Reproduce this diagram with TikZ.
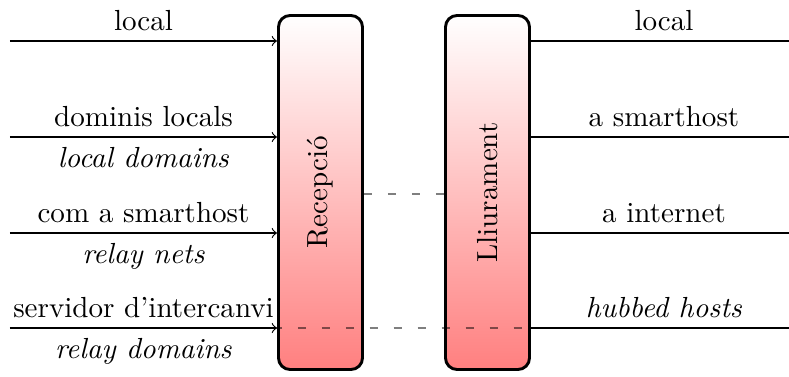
\documentclass[tikz,border=0pt]{standalone}
\usepackage{tikz}
\usetikzlibrary{positioning}

\begin{document}
\begin{tikzpicture}[x=0.344pt, y=-0.344pt,
  stage/.style={draw, line width=1pt, rounded corners=4pt, minimum width=28.9pt,
    minimum height=121.8pt, top color=white, bottom color=red!50},
  route/.style={draw=black, draw opacity=0.5, line width=0.6pt, dash pattern=on 2.75pt off 5.5pt}]
  \useasboundingbox (0,0) rectangle (789,376);
  % the two stages
  \node[stage] (recepcio) at (320.5,192.5) {};
  \node[rotate=90] (recepcio text) at (recepcio) {Recepció};
  \node[stage] (lliurament) at (487.5,192.5) {};
  \node[rotate=90] (lliurament text) at (lliurament) {Lliurament};
  % free ends
  \coordinate (in1) at (10,41);
  \coordinate (in2) at (10,137);
  \coordinate (in3) at (10,233);
  \coordinate (in4) at (10,328);
  \coordinate (out1) at (797,41);
  \coordinate (out2) at (797,137);
  \coordinate (out3) at (797,233);
  \coordinate (out4) at (797,328);
  \coordinate (mid) at (0,194);
  % incoming
  \draw[->] (in1) -- node[above] {local} (recepcio.west |- in1);
  \draw[->] (in2) -- node[above] {dominis locals} node[below] {\textit{local domains}} (recepcio.west |- in2);
  \draw[->] (in3) -- node[above] {com a smarthost} node[below] {\textit{relay nets}} (recepcio.west |- in3);
  \draw[->] (in4) -- node[above] {servidor d'intercanvi} node[below] {\textit{relay domains}} (recepcio.west |- in4);
  % outgoing
  \draw (lliurament.east |- out1) -- node[above] {local} (out1);
  \draw (lliurament.east |- out2) -- node[above] {a smarthost} (out2);
  \draw (lliurament.east |- out3) -- node[above] {a internet} (out3);
  \draw (lliurament.east |- out4) -- node[above] {\textit{hubbed hosts}} (out4);
  % routes
  \draw[route] (recepcio.east |- mid) -- (lliurament.west |- mid);
  \draw[route] (in4) -- (out4);
\end{tikzpicture}
\end{document}
